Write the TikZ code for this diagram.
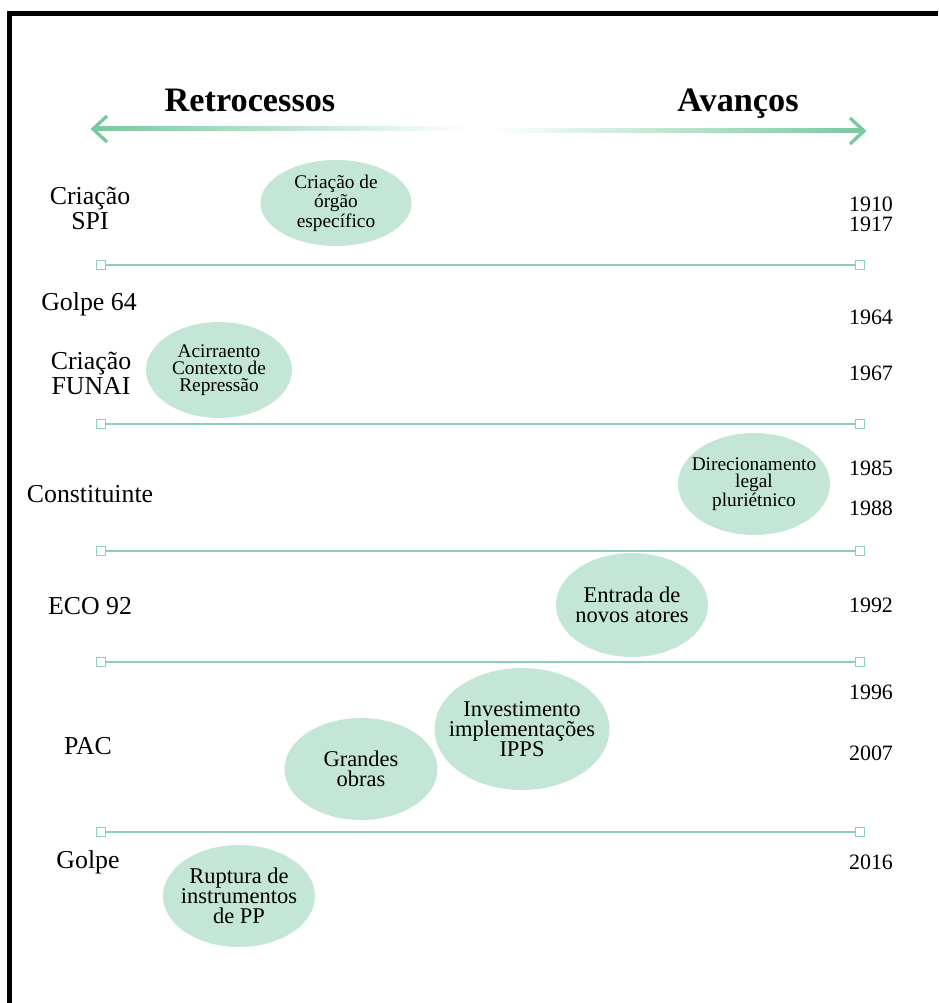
\documentclass[tikz,border=0pt]{standalone}
\usepackage{fontspec}
\setmainfont{Liberation Serif}
\usetikzlibrary{shapes.geometric}
\definecolor{linegreen}{RGB}{140,206,182}
\definecolor{bubblegreen}{RGB}{196,230,214}
\definecolor{arrowgreen}{RGB}{120,200,160}

\begin{document}
\begin{tikzpicture}[x=0.02cm, y=-0.02cm,
	bubble/.style={ellipse, fill=bubblegreen, inner xsep=-0.6cm, inner ysep=-0.5cm, align=center},
	smalltxt/.style={font=\fontsize{11}{9.8}\selectfont},
	bigtxt/.style={font=\fontsize{12.8}{11.4}\selectfont},
	event/.style={align=center, font=\fontsize{14.7}{14.2}\selectfont},
	year/.style={font=\fontsize{12.5}{12.5}\selectfont},
	heading/.style={anchor=base, font=\bfseries\fontsize{19.5}{20}\selectfont},
	endsq/.style={draw=linegreen, fill=white, line width=0.8pt, minimum size=0.19cm, inner sep=0pt},
	sepline/.style={draw=linegreen, line width=1.1pt}]
			%%%%% START %%%%%
			\useasboundingbox (0,0) rectangle (938,1003);
			
			% frame
			\draw[line width=0.1cm] (9.5,1003) -- (9.5,13.5) -- (938,13.5);
			
			% headings and double arrow
			\node[heading] (retro) at (250,112) {Retrocessos};
			\node[heading] (avanco) at (738,112) {Avanços};
			\shade[left color=arrowgreen, middle color=arrowgreen!70, right color=white] (94,127) rectangle (470,131);
			\shade[left color=white, middle color=arrowgreen!70, right color=arrowgreen] (490,129) rectangle (862,133);
			\draw[arrowgreen, line width=1.9pt] (107,116) -- (93,129) -- (107,142);
			\draw[arrowgreen, line width=1.9pt] (850,118) -- (864,131) -- (850,144);
			
			% separators
			\foreach \y [count=\i] in {265,424,551,662,832} {
				\node[endsq] (l\i) at (101,\y) {};
				\node[endsq] (r\i) at (860,\y) {};
				\draw[sepline] (l\i) -- (r\i);
			}
			
			% events (left)
			\node[event] (spi) at (90,208) {Criação\\SPI};
			\node[event] (golpe64) at (89,304) {Golpe 64};
			\node[event] (funai) at (91,373) {Criação\\FUNAI};
			\node[event] (constit) at (90,494) {Constituinte};
			\node[event] (eco) at (90,606) {ECO 92};
			\node[event] (pac) at (88,746) {PAC};
			\node[event] (golpe) at (88,862) {Golpe};
			
			% years (right)
			\node[year] (y1910) at (871,204) {1910};
			\node[year] (y1917) at (871,224) {1917};
			\node[year] (y1964) at (871,317) {1964};
			\node[year] (y1967) at (871,373) {1967};
			\node[year] (y1985) at (871,468) {1985};
			\node[year] (y1988) at (871,508) {1988};
			\node[year] (y1992) at (871,605) {1992};
			\node[year] (y1996) at (871,692) {1996};
			\node[year] (y2007) at (871,753) {2007};
			\node[year] (y2016) at (871,862) {2016};
			
			% bubbles
			\node[bubble, smalltxt, minimum width=3.02cm, minimum height=1.72cm] (orgao) at (336,203) {Criação de\\órgão\\específico};
			\node[bubble, smalltxt, minimum width=2.92cm, minimum height=1.92cm] (repress) at (219,370) {Acirraento\\Contexto de\\Repressão};
			\node[bubble, smalltxt, minimum width=3.04cm, minimum height=2.04cm] (legal) at (754,484) {Direcionamento\\legal\\pluriétnico};
			\node[bubble, bigtxt, minimum width=3.04cm, minimum height=2.08cm] (atores) at (632,605) {Entrada de\\novos atores};
			\node[bubble, bigtxt, minimum width=3.06cm, minimum height=2.04cm] (obras) at (361,769) {Grandes\\obras};
			\node[bubble, bigtxt, minimum width=3.5cm, minimum height=2.44cm] (ipps) at (522,729) {Investimento\\implementações\\IPPS};
			\node[bubble, bigtxt, minimum width=3.04cm, minimum height=2.04cm] (ruptura) at (239,896) {Ruptura de\\instrumentos\\de PP};
			
			%%%%% END %%%%%
\end{tikzpicture}
\end{document}
